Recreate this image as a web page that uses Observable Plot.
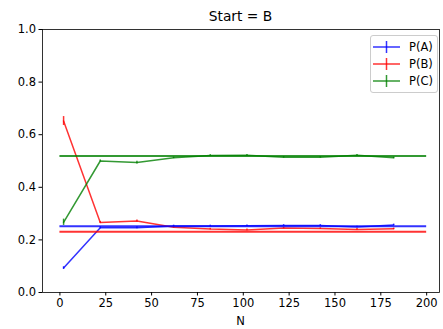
<!DOCTYPE html>
<html>
<head>
<meta charset="utf-8">
<script src="https://cdn.jsdelivr.net/npm/d3@7"></script>
<script src="https://cdn.jsdelivr.net/npm/@observablehq/plot@0.6"></script>
<style>
  html, body { margin: 0; padding: 0; background: #fff; }
  svg { font-family: "DejaVu Sans", sans-serif; }
</style>
</head>
<body>
<div id="chart"></div>
<script>
// ---- data ----
const title = "Start = B";
const xLabel = "N";
const N = [2, 22, 42, 62, 82, 102, 122, 142, 162, 182];
const pA = [0.093, 0.246, 0.246, 0.253, 0.253, 0.254, 0.255, 0.255, 0.249, 0.257];
const pB = [0.652, 0.266, 0.272, 0.248, 0.241, 0.238, 0.245, 0.243, 0.240, 0.242];
const pC = [0.267, 0.500, 0.494, 0.512, 0.521, 0.522, 0.514, 0.514, 0.522, 0.512];
const errA = [0.005, 0.004, 0.004, 0.003, 0.003, 0.003, 0.003, 0.003, 0.003, 0.003];
const errB = [0.017, 0.004, 0.004, 0.003, 0.003, 0.003, 0.003, 0.003, 0.003, 0.003];
const errC = [0.012, 0.004, 0.005, 0.003, 0.003, 0.003, 0.003, 0.003, 0.003, 0.003];
const seriesNames = ["P(A)", "P(B)", "P(C)"];
const seriesColors = ["#0000ff", "#ff0000", "#008000"];
const stationary = [0.252, 0.231, 0.519];
const xTicks = [0, 25, 50, 75, 100, 125, 150, 175, 200];
const yTicks = [0, 0.2, 0.4, 0.6, 0.8, 1.0];

// ---- build tables ----
const values = [pA, pB, pC];
const errs = [errA, errB, errC];
const rows = [];
seriesNames.forEach((s, i) => {
  N.forEach((n, j) => rows.push({series: s, n, p: values[i][j], e: errs[i][j]}));
});
const hlines = seriesNames.map((s, i) => ({series: s, p: stationary[i]}));

const colorOf = s => seriesColors[seriesNames.indexOf(s)];

const chart = Plot.plot({
  width: 443,
  height: 329,
  marginTop: 29,
  marginLeft: 42,
  marginRight: 4,
  marginBottom: 37,
  style: {fontSize: "11.5px", fontFamily: "DejaVu Sans, sans-serif", color: "#000", background: "#fff"},
  x: {domain: [-9.5, 207]},
  y: {domain: [0, 1]},
  marks: [
    Plot.axisX({ticks: xTicks, tickSize: 3.5, tickPadding: 3, label: null, stroke: "#000"}),
    Plot.axisY({ticks: yTicks, tickSize: 3.5, tickPadding: 3, tickFormat: d3.format(".1f"), label: null, stroke: "#000"}),
    ...seriesNames.map((s, i) => [
      Plot.line(rows.filter(r => r.series === s), {x: "n", y: "p", stroke: seriesColors[i], strokeWidth: 1.5, strokeOpacity: 0.8}),
      Plot.ruleX(rows.filter(r => r.series === s), {x: "n", y1: d => d.p - d.e, y2: d => d.p + d.e, stroke: seriesColors[i], strokeWidth: 1.5, strokeOpacity: 0.8})
    ]).flat(),
    Plot.ruleY(hlines, {y: "p", x1: 0, x2: 200, stroke: d => colorOf(d.series), strokeWidth: 2, strokeOpacity: 0.8}),
    Plot.frame({stroke: "#000", strokeWidth: 0.8})
  ]
});

document.getElementById("chart").appendChild(chart);

// ---- title, axis label, legend ----
const svg = d3.select(chart);
svg.append("text")
  .attr("x", 240.5).attr("y", 21)
  .attr("text-anchor", "middle")
  .attr("font-size", "13.8px")
  .attr("fill", "#000")
  .text(title);
svg.append("text")
  .attr("x", 240.5).attr("y", 325)
  .attr("text-anchor", "middle")
  .attr("font-size", "11.5px")
  .attr("fill", "#000")
  .text(xLabel);

const lg = svg.append("g");
lg.append("rect")
  .attr("x", 370.5).attr("y", 35.5)
  .attr("width", 67).attr("height", 57)
  .attr("rx", 2.5)
  .attr("fill", "#fff").attr("fill-opacity", 0.8)
  .attr("stroke", "#ccc").attr("stroke-width", 1);
seriesNames.forEach((s, i) => {
  const y = 47 + i * 17;
  lg.append("line").attr("x1", 373).attr("x2", 400).attr("y1", y).attr("y2", y)
    .attr("stroke", seriesColors[i]).attr("stroke-width", 1.5).attr("stroke-opacity", 0.8);
  lg.append("line").attr("x1", 386.5).attr("x2", 386.5).attr("y1", y - 6).attr("y2", y + 6)
    .attr("stroke", seriesColors[i]).attr("stroke-width", 1.5).attr("stroke-opacity", 0.8);
  lg.append("text").attr("x", 409).attr("y", y + 4)
    .attr("text-anchor", "start")
    .attr("font-size", "11.5px").attr("fill", "#000").text(s);
});
</script>
</body>
</html>
